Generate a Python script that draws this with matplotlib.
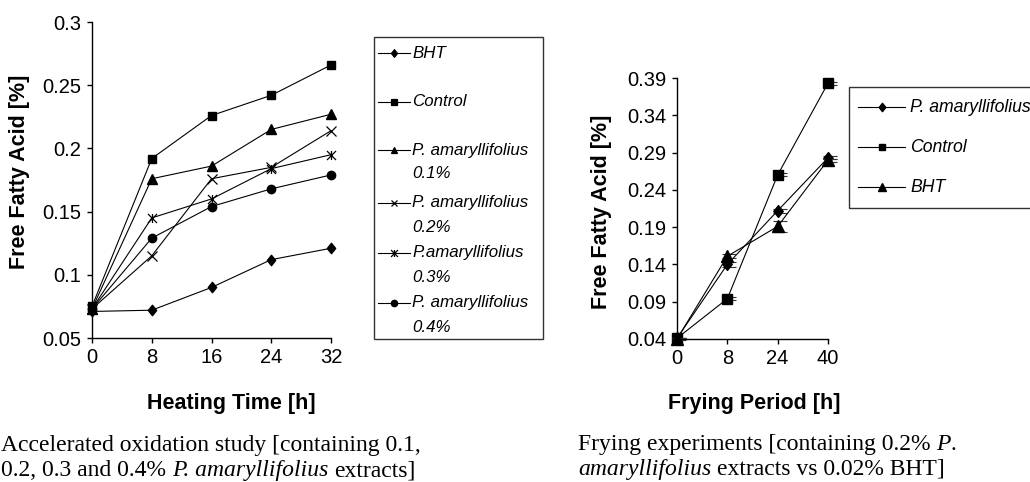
import numpy as np
import matplotlib
matplotlib.use('Agg')
import matplotlib.pyplot as plt
from matplotlib.path import Path
from matplotlib.lines import Line2D
from matplotlib.patches import Rectangle
import matplotlib.transforms as mtransforms

W, H = 1030, 482
plt.rcParams['font.family'] = ['Liberation Sans', 'DejaVu Sans']

# ---------------- data: accelerated oxidation study ----------------
heating_time = [0, 8, 16, 24, 32]
bht = [0.071, 0.072, 0.090, 0.112, 0.121]
control = [0.075, 0.192, 0.226, 0.242, 0.266]
pa_01 = [0.073, 0.176, 0.186, 0.215, 0.227]
pa_02 = [0.073, 0.115, 0.176, 0.185, 0.214]
pa_03 = [0.073, 0.145, 0.160, 0.184, 0.195]
pa_04 = [0.073, 0.129, 0.154, 0.168, 0.179]
left_yticks = [0.05, 0.1, 0.15, 0.2, 0.25, 0.3]
left_ytick_labels = ['0.05', '0.1', '0.15', '0.2', '0.25', '0.3']
left_legend_labels = [['BHT'], ['Control'], ['P. amaryllifolius', '0.1%'],
                      ['P. amaryllifolius', '0.2%'], ['P.amaryllifolius', '0.3%'],
                      ['P. amaryllifolius', '0.4%']]

# ---------------- data: frying experiments ----------------
frying_labels = ['0', '8', '24', '40']
fry_pa = [0.041, 0.140, 0.212, 0.283]
fry_control = [0.041, 0.094, 0.260, 0.383]
fry_bht = [0.040, 0.151, 0.191, 0.280]
fry_pa_err = [0.001, 0.003, 0.003, 0.002]
fry_control_err = [0.001, 0.002, 0.002, 0.002]
fry_bht_err = [0.001, 0.003, 0.007, 0.002]
right_yticks = [0.04, 0.09, 0.14, 0.19, 0.24, 0.29, 0.34, 0.39]
right_legend_labels = ['P. amaryllifolius', 'Control', 'BHT']

# ---------------- markers ----------------
M, L = Path.MOVETO, Path.LINETO
star = Path([(-1, -1), (1, 1), (-1, 1), (1, -1), (0, -1), (0, 1)],
            [M, L, M, L, M, L])
diamond = Path([(0, 1), (0.8, 0), (0, -1), (-0.8, 0), (0, 1)],
               [M, L, L, L, Path.CLOSEPOLY])

fig = plt.figure(figsize=(W / 100, H / 100), dpi=100)


def fx(x):
    return x / W


def fy(y):
    return 1 - y / H


lw = 0.8
# ---------------- left axes ----------------
axL = fig.add_axes([fx(92), fy(338), (331 - 92) / W, (338 - 22) / H])
left_series = [
    (bht, dict(marker=diamond, ms=7.5)),
    (control, dict(marker='s', ms=5.8)),
    (pa_01, dict(marker='^', ms=6.8)),
    (pa_02, dict(marker='x', ms=6.5, mew=0.9)),
    (pa_03, dict(marker=star, ms=6.5, mew=0.9)),
    (pa_04, dict(marker='o', ms=6.0)),
]
for vals, st in left_series:
    axL.plot(heating_time, vals, color='black', lw=lw, mfc='black', mec='black',
             clip_on=False, **st)
axL.set_xlim(0, 32)
axL.set_ylim(0.05, 0.3)
axL.set_xticks(heating_time)
axL.set_xticklabels([str(t) for t in heating_time])
axL.set_yticks(left_yticks)
axL.set_yticklabels(left_ytick_labels)

# ---------------- right axes ----------------
axR = fig.add_axes([fx(677), fy(339), (828 - 677) / W, (339 - 78) / H])
xpos = np.arange(len(frying_labels))
off = mtransforms.ScaledTranslation(2 / 100, 0, fig.dpi_scale_trans)
right_series = [
    (fry_pa, fry_pa_err, dict(marker=diamond, ms=8.5)),
    (fry_control, fry_control_err, dict(marker='s', ms=7.8)),
    (fry_bht, fry_bht_err, dict(marker='^', ms=8.2)),
]
for vals, err, st in right_series:
    axR.errorbar(xpos, vals, yerr=err, fmt='none', ecolor='#333333', elinewidth=0.8,
                 capsize=4.8, capthick=0.8, transform=axR.transData + off, clip_on=False)
    axR.plot(xpos, vals, color='black', lw=lw, mfc='black', mec='black',
             clip_on=False, **st)
axR.set_xlim(0, len(frying_labels) - 1)
axR.set_ylim(0.04, 0.39)
axR.set_xticks(xpos)
axR.set_xticklabels(frying_labels)
axR.set_yticks(right_yticks)
axR.set_yticklabels(['%.2f' % v for v in right_yticks])

for ax in (axL, axR):
    for s in ('top', 'right'):
        ax.spines[s].set_visible(False)
    for s in ('left', 'bottom'):
        ax.spines[s].set_linewidth(1.0)
    ax.tick_params(direction='out', length=3.5, width=1.0, labelsize=14.5, pad=4,
                   colors='black')

# ---------------- axis labels ----------------
lab = dict(fontsize=15.5, fontweight='bold', ha='center', va='center')
fig.text(fx(231), fy(403), 'Heating Time [h]', **lab)
fig.text(fx(20), fy(172), 'Free Fatty Acid [%]', rotation=90, **lab)
fig.text(fx(754), fy(403), 'Frying Period [h]', **lab)
fig.text(fx(602), fy(212), 'Free Fatty Acid [%]', rotation=90, **lab)

# ---------------- legends (drawn manually) ----------------
fig.patches.append(Rectangle((fx(374), fy(339)), (543 - 374) / W, (339 - 37) / H,
                             transform=fig.transFigure, fill=False, ec='#333333', lw=1.0))
left_leg_y = [53, 102, 150, 203, 253, 303]
left_leg_markers = [(diamond, 5.5), ('s', 4.3), ('^', 5.0), ('x', 5.0), (star, 5.0), ('o', 4.6)]
for (mk, ms), lines, y in zip(left_leg_markers, left_legend_labels, left_leg_y):
    fig.lines.append(Line2D([fx(378), fx(394), fx(410)], [fy(y)] * 3, transform=fig.transFigure,
                            color='black', lw=lw, marker=mk, ms=ms, markevery=[1],
                            mfc='black', mec='black', mew=0.9))
    for i, txt in enumerate(lines):
        fig.text(fx(412), fy(y + 24 * i), txt, fontsize=12.2, fontstyle='italic',
                 ha='left', va='center')

fig.patches.append(Rectangle((fx(849), fy(208)), (1045 - 849) / W, (208 - 87) / H,
                             transform=fig.transFigure, fill=False, ec='#333333', lw=1.0))
right_leg_y = [107, 147, 187]
right_leg_markers = [(diamond, 6.0), ('s', 4.8), ('^', 5.5)]
for (mk, ms), txt, y in zip(right_leg_markers, right_legend_labels, right_leg_y):
    fig.lines.append(Line2D([fx(858), fx(882), fx(905)], [fy(y)] * 3, transform=fig.transFigure,
                            color='black', lw=lw, marker=mk, ms=ms, markevery=[1],
                            mfc='black', mec='black'))
    fig.text(fx(910), fy(y), txt, fontsize=12.7, fontstyle='italic', ha='left', va='center')

# ---------------- captions with mixed italics ----------------
renderer = fig.canvas.get_renderer()
CAP = 17


def text_w(s, style):
    t = fig.text(0, 0, s, fontsize=CAP, fontfamily='Liberation Serif', fontstyle=style)
    w = t.get_window_extent(renderer).width
    t.remove()
    return w


space_w = text_w('a a', 'normal') - text_w('aa', 'normal')


def runs(x, y, parts):
    for txt, style in parts:
        lead = len(txt) - len(txt.lstrip(' '))
        trail = len(txt) - len(txt.rstrip(' '))
        core = txt.strip(' ')
        x += lead * space_w
        if core:
            t = fig.text(fx(x), fy(y), core, fontsize=CAP, fontfamily='Liberation Serif',
                         fontstyle=style, ha='left', va='baseline')
            x += t.get_window_extent(renderer).width
        x += trail * space_w


runs(1, 451, [('Accelerated oxidation study [containing 0.1,', 'normal')])
runs(1, 476, [('0.2, 0.3 and 0.4% ', 'normal'), ('P. amaryllifolius', 'italic'),
              (' extracts]', 'normal')])
runs(578, 450, [('Frying experiments [containing 0.2% ', 'normal'), ('P', 'italic'),
                ('.', 'normal')])
runs(578, 475, [('amaryllifolius', 'italic'), (' extracts vs 0.02% BHT]', 'normal')])

fig.savefig('out.png', dpi=100)
